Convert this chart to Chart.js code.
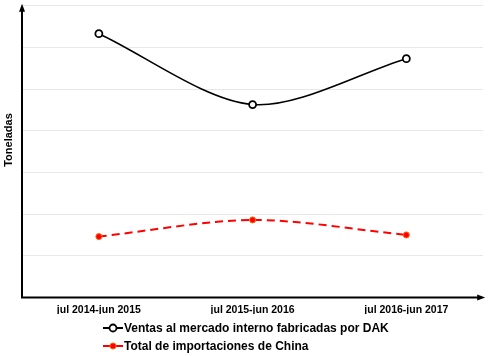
<!DOCTYPE html>
<html><head><meta charset="utf-8">
<script src="https://cdn.jsdelivr.net/npm/chart.js@4.4.0/dist/chart.umd.min.js"></script>
<style>html,body{margin:0;padding:0;background:#fff}#w{width:489px;height:356px}</style>
</head><body><div id="w"><canvas id="c" width="489" height="356"></canvas></div>
<script>
const categories = ["jul 2014-jun 2015", "jul 2015-jun 2016", "jul 2016-jun 2017"];
const ventasDAK = [6.33, 4.63, 5.73];
const importChina = [1.46, 1.86, 1.50];
const seriesNames = ["Ventas al mercado interno fabricadas por DAK", "Total de importaciones de China"];
const yTitle = "Toneladas";

const FONT = "'Liberation Sans', Arial, sans-serif";

const decor = {
  id: 'decor',
  afterDraw(chart) {
    const ctx = chart.ctx, a = chart.chartArea;
    ctx.save();
    ctx.strokeStyle = '#000'; ctx.fillStyle = '#000'; ctx.lineWidth = 2;
    ctx.beginPath();
    ctx.moveTo(a.left, a.top + 4); ctx.lineTo(a.left, a.bottom); ctx.lineTo(a.right - 2, a.bottom);
    ctx.stroke();
    ctx.beginPath();
    ctx.moveTo(a.left, a.top - 2); ctx.lineTo(a.left - 3, a.top + 6); ctx.lineTo(a.left + 3, a.top + 6); ctx.closePath(); ctx.fill();
    ctx.beginPath();
    ctx.moveTo(a.right + 2, a.bottom); ctx.lineTo(a.right - 6, a.bottom - 3); ctx.lineTo(a.right - 6, a.bottom + 3); ctx.closePath(); ctx.fill();
    ctx.save();
    ctx.translate(9, 140); ctx.rotate(-Math.PI / 2);
    ctx.font = "bold 11px " + FONT; ctx.textAlign = 'center'; ctx.textBaseline = 'middle';
    ctx.fillText(yTitle, 0, 0);
    ctx.restore();
    const items = chart.data.datasets;
    const x0 = 103, ys = [328, 346];
    ctx.font = "bold 12px " + FONT; ctx.textBaseline = 'middle'; ctx.textAlign = 'left';
    items.forEach((ds, i) => {
      const y = ys[i];
      ctx.strokeStyle = ds.borderColor; ctx.lineWidth = 2;
      ctx.setLineDash([]);
      ctx.beginPath(); ctx.moveTo(x0, y); ctx.lineTo(x0 + 20, y); ctx.stroke();
      ctx.beginPath(); ctx.arc(x0 + 10, y, i === 0 ? 3.5 : 3, 0, Math.PI * 2);
      ctx.fillStyle = ds.pointBackgroundColor; ctx.fill();
      ctx.strokeStyle = ds.pointBorderColor; ctx.lineWidth = i === 0 ? 1.8 : 1; ctx.stroke();
      ctx.fillStyle = '#000';
      ctx.fillText(ds.label, x0 + 21, y + 1);
    });
    ctx.restore();
  }
};

new Chart(document.getElementById('c'), {
  type: 'line',
  data: {
    labels: categories,
    datasets: [
      { label: seriesNames[0], data: ventasDAK, borderColor: '#000', borderWidth: 1.6,
        pointRadius: 3.5, pointBorderWidth: 1.8, pointBackgroundColor: '#fff', pointBorderColor: '#000',
        tension: 0.3 },
      { label: seriesNames[1], data: importChina, borderColor: '#ff0000', borderWidth: 2, borderDash: [8, 5],
        pointRadius: 3, pointBorderWidth: 1, pointBackgroundColor: '#ff0000', pointBorderColor: '#ff6000',
        tension: 0.3 }
    ]
  },
  options: {
    responsive: false, animation: false, devicePixelRatio: 1,
    layout: { padding: { left: 22, right: 3, top: 4, bottom: 42 } },
    plugins: { legend: { display: false }, tooltip: { enabled: false } },
    scales: {
      x: { offset: true, grid: { display: false }, border: { display: false },
        ticks: { color: '#000', font: { family: FONT, size: 10.5, weight: 'bold' }, padding: -2, maxRotation: 0 } },
      y: { min: 0, max: 7, grid: { color: '#e8e8e8', lineWidth: 1, drawTicks: false }, border: { display: false },
        ticks: { display: false, stepSize: 1 } }
    }
  },
  plugins: [decor]
});
</script></body></html>
